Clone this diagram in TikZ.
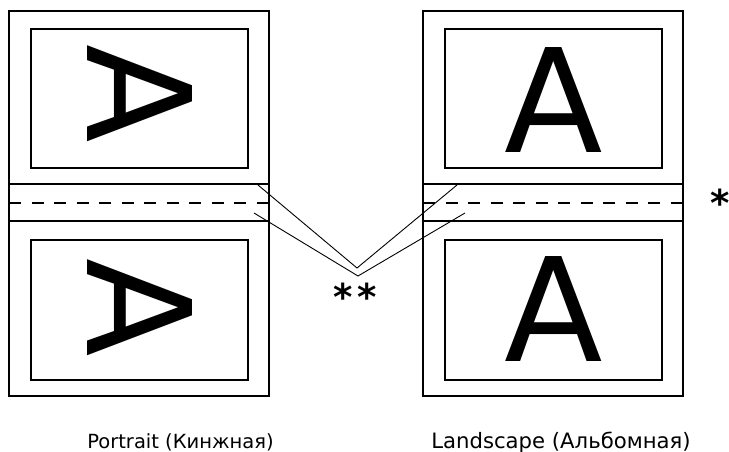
\documentclass[tikz,border=0pt]{standalone}
\usepackage{fontspec}
\setmainfont{DejaVu Sans}
\newfontfamily\bigafont{DejaVu Sans}
\newfontfamily\starfont{DejaVu Sans}
\begin{document}
\begin{tikzpicture}[x=1pt,y=-1pt,
  page/.style={draw, line width=1.8pt},
  frame/.style={draw, line width=1.6pt},
  fold/.style={line width=1.6pt},
  foldmark/.style={line width=1.8pt, dash pattern=on 12pt off 10.5pt},
  leader/.style={line width=0.9pt},
  letter/.style={inner sep=0pt, font=\bigafont\fontsize{144}{144}\selectfont},
  star/.style={inner sep=0pt, font=\starfont\bfseries\fontsize{37}{37}\selectfont},
  caption/.style={inner sep=0pt, anchor=base}]
\useasboundingbox (0,0) rectangle (729,452);
% left page (portrait)
\draw[page] (9,11) rectangle (269,396);
\draw[frame] (31,29) rectangle (248,168);
\draw[frame] (31,240) rectangle (248,380);
\draw[fold] (9,184) -- (269,184);
\draw[fold] (9,221) -- (269,221);
\draw[foldmark] (9,203) -- (269,203);
\node[letter, rotate=-90] (lA1) at (140,94) {A};
\node[letter, rotate=-90] (lA2) at (140,307.5) {A};
% right page (landscape)
\draw[page] (423,11) rectangle (683,396);
\draw[frame] (445,29) rectangle (662,168);
\draw[frame] (445,240) rectangle (662,380);
\draw[fold] (423,184) -- (683,184);
\draw[fold] (423,221) -- (683,221);
\draw[foldmark] (423,203) -- (683,203);
\node[letter] (rA1) at (553.5,100.5) {A};
\node[letter] (rA2) at (554,309) {A};
% leader lines
\coordinate (lt) at (258,185);
\coordinate (lb) at (254,213);
\coordinate (rt) at (457,185);
\coordinate (rb) at (465,213);
\coordinate (vt) at (357,268);
\coordinate (vb) at (358,276);
\draw[leader] (lt) -- (vt) -- (rt);
\draw[leader] (lb) -- (vb) -- (rb);
% asterisks
\node[star, anchor=base] (dstar) at (355,310) {*\kern4pt*};
\node[star, anchor=base] (sstar) at (720,216) {*};
% captions
\node[caption, font=\fontsize{19.5}{19.5}\selectfont] (cap1) at (180.5,448) {Portrait (Кинжная)};
\node[caption, font=\fontsize{21.2}{21.2}\selectfont] (cap2) at (561,448) {Landscape (Альбомная)};
\end{tikzpicture}
\end{document}
